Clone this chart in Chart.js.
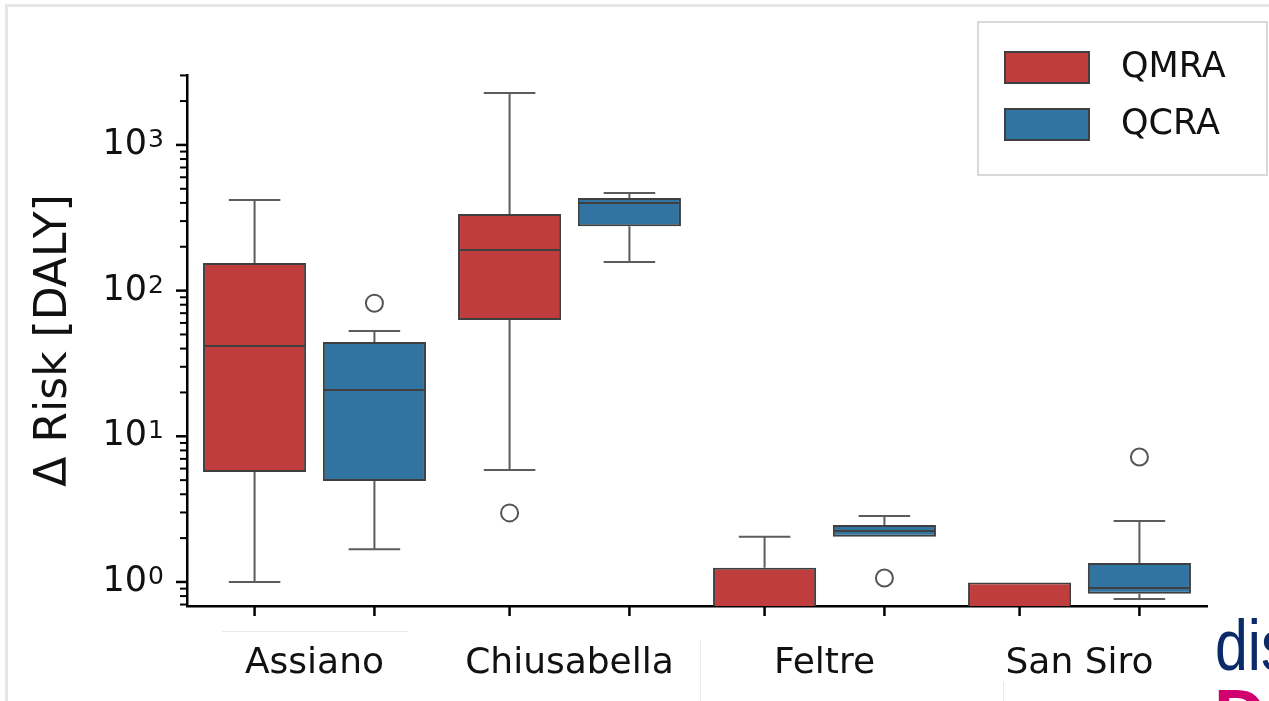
<!DOCTYPE html>
<html>
<head>
<meta charset="utf-8">
<script src="https://cdn.jsdelivr.net/npm/chart.js@4"></script>
<style>
  html, body { margin: 0; padding: 0; background: #fff; overflow: hidden; }
  #wrap { position: relative; width: 1269px; height: 701px; overflow: hidden; }
  #frame { position: absolute; left: 5px; top: 4px; width: 1300px; height: 720px;
           border-top: 3px solid #e6e6e6; border-left: 3px solid #e6e6e6; pointer-events: none; }
  .faint { position: absolute; background: #e9e9e9; }
  #slideText { position: absolute; left: 1215px; top: 604px; font: 72px 'Liberation Sans', sans-serif;
               color: #0b2a68; transform: scaleX(0.82); transform-origin: left top; white-space: nowrap; }
  #slideText2 { position: absolute; left: 1214px; top: 674px; font: bold 72px 'Liberation Sans', sans-serif;
                color: #d1006e; white-space: nowrap; }
</style>
</head>
<body>
<div id="wrap">
  <canvas id="riskChart" width="1269" height="701"></canvas>
  <div id="frame"></div>
  <div class="faint" style="left:222px; top:631px; width:186px; height:1px;"></div>
  <div class="faint" style="left:700px; top:640px; width:1px; height:61px;"></div>
  <div class="faint" style="left:1003px; top:682px; width:1px; height:19px;"></div>
  <div id="slideText">dis</div>
  <div id="slideText2">D</div>
</div>
<script>
// ---- data ----
const categories = ['Assiano', 'Chiusabella', 'Feltre', 'San Siro'];
const seriesNames = ['QMRA', 'QCRA'];
const seriesColors = ['#c03d3e', '#3274a1'];

// QMRA box stats (whisker low, q1, median, q3, whisker high, outliers)
const qmraLow = [1.0, 5.87, 0.3, 0.3];
const qmraQ1 = [5.69, 62.9, 0.4, 0.45];
const qmraMedian = [41.7, 190, 0.55, 0.6];
const qmraQ3 = [155, 336, 1.25, 0.99];
const qmraHigh = [419, 2270, 2.04, 0.99];
const qmraOutliers = [[], [2.98], [], []];

// QCRA box stats
const qcraLow = [1.68, 157, 2.04, 0.764];
const qcraQ1 = [4.93, 277, 2.04, 0.83];
const qcraMedian = [20.8, 399, 2.24, 0.91];
const qcraQ3 = [44.4, 432, 2.46, 1.35];
const qcraHigh = [52.8, 468, 2.84, 2.62];
const qcraOutliers = [[82], [], [1.065], [7.21]];

// y tick labels: base "10" plus exponent
const yTickValues = [1, 10, 100, 1000];
const yTickBase = '10';
const yTickExponents = ['0', '1', '2', '3'];
const yMin = 0.684;
const yMax = 3020;

const stats = [
    { lo: qmraLow, q1: qmraQ1, med: qmraMedian, q3: qmraQ3, hi: qmraHigh, out: qmraOutliers },
    { lo: qcraLow, q1: qcraQ1, med: qcraMedian, q3: qcraQ3, hi: qcraHigh, out: qcraOutliers },
];

const FONT = "'DejaVu Sans', sans-serif";
const EDGE = '#3f3f3f';
const WHISKER = '#5c5c5c';
const Y_LABEL_PAD = 40;

function tickIndex(v) {
    return yTickValues.findIndex(t => Math.abs(v - t) / t < 1e-6);
}

// whiskers, medians, outliers, axis ticks, exponents and the legend box
const boxExtras = {
    id: 'boxExtras',
    afterDatasetsDraw(chart) {
        const { ctx, chartArea } = chart;
        const y = chart.scales.y;
        const py = v => y.getPixelForValue(v);
        ctx.save();
        ctx.beginPath();
        ctx.rect(chartArea.left, chartArea.top, chartArea.right - chartArea.left, chartArea.bottom - chartArea.top);
        ctx.clip();
        chart.data.datasets.forEach((ds, di) => {
            const st = stats[di];
            chart.getDatasetMeta(di).data.forEach((bar, i) => {
                const x = bar.x;
                const half = bar.width / 2;
                const cap = bar.width * 0.25;
                ctx.strokeStyle = WHISKER;
                ctx.lineWidth = 2;
                if (st.hi[i] > st.q3[i]) {
                    ctx.beginPath();
                    ctx.moveTo(x, py(st.q3[i]));
                    ctx.lineTo(x, py(st.hi[i]));
                    ctx.moveTo(x - cap, py(st.hi[i]));
                    ctx.lineTo(x + cap, py(st.hi[i]));
                    ctx.stroke();
                }
                if (st.lo[i] < st.q1[i]) {
                    ctx.beginPath();
                    ctx.moveTo(x, py(st.q1[i]));
                    ctx.lineTo(x, py(st.lo[i]));
                    ctx.moveTo(x - cap, py(st.lo[i]));
                    ctx.lineTo(x + cap, py(st.lo[i]));
                    ctx.stroke();
                }
                ctx.strokeStyle = EDGE;
                ctx.beginPath();
                ctx.moveTo(x - half + 1, py(st.med[i]));
                ctx.lineTo(x + half - 1, py(st.med[i]));
                ctx.stroke();
                st.out[i].forEach(v => {
                    ctx.strokeStyle = '#555';
                    ctx.beginPath();
                    ctx.arc(x, py(v), 8.5, 0, Math.PI * 2);
                    ctx.stroke();
                });
            });
        });
        ctx.restore();
    },
    afterDraw(chart) {
        const { ctx, chartArea } = chart;
        const y = chart.scales.y;
        ctx.save();
        ctx.strokeStyle = '#000';
        // y ticks: long on decades, short in between
        y.ticks.forEach(t => {
            const e = Math.floor(Math.log10(t.value) + 1e-9);
            const sig = t.value / Math.pow(10, e);
            if (Math.abs(sig - Math.round(sig)) > 1e-6) return;
            const major = Math.round(sig) === 1;
            const p = y.getPixelForValue(t.value);
            ctx.lineWidth = major ? 2.5 : 2;
            ctx.beginPath();
            ctx.moveTo(chartArea.left, p);
            ctx.lineTo(chartArea.left - (major ? 11 : 7), p);
            ctx.stroke();
        });
        // exponents next to the "10" labels
        ctx.fillStyle = '#111';
        ctx.font = '25px ' + FONT;
        ctx.textAlign = 'left';
        ctx.textBaseline = 'alphabetic';
        yTickValues.forEach((v, i) => {
            ctx.fillText(yTickExponents[i], chartArea.left - Y_LABEL_PAD + 1, y.getPixelForValue(v) + 2);
        });
        // x ticks under every box
        ctx.lineWidth = 2.5;
        chart.data.datasets.forEach((ds, di) => {
            chart.getDatasetMeta(di).data.forEach(bar => {
                ctx.beginPath();
                ctx.moveTo(bar.x, chartArea.bottom);
                ctx.lineTo(bar.x, chartArea.bottom + 10);
                ctx.stroke();
            });
        });
        // legend
        ctx.fillStyle = '#fff';
        ctx.fillRect(978, 22, 289, 153);
        ctx.strokeStyle = '#d9d9d9';
        ctx.lineWidth = 2;
        ctx.strokeRect(978, 22, 289, 153);
        seriesNames.forEach((name, i) => {
            const top = 52 + i * 57;
            ctx.fillStyle = seriesColors[i];
            ctx.fillRect(1005, top, 84, 31);
            ctx.strokeStyle = EDGE;
            ctx.lineWidth = 2;
            ctx.strokeRect(1005, top, 84, 31);
            ctx.fillStyle = '#111';
            ctx.font = '35px ' + FONT;
            ctx.textBaseline = 'middle';
            ctx.fillText(name, 1121, top + 16);
        });
        ctx.restore();
    }
};

new Chart(document.getElementById('riskChart'), {
    type: 'bar',
    data: {
        labels: categories,
        datasets: seriesNames.map((name, di) => ({
            label: name,
            data: categories.map((c, i) => [stats[di].q1[i], stats[di].q3[i]]),
            backgroundColor: seriesColors[di],
            borderColor: EDGE,
            borderWidth: 2,
            borderSkipped: false,
            categoryPercentage: 0.94,
            barPercentage: 0.86,
            clip: 0,
        })),
    },
    options: {
        responsive: false,
        animation: false,
        layout: { padding: { top: 75, right: 62, bottom: 0, left: 0 } },
        plugins: {
            legend: { display: false },
            tooltip: { enabled: false },
        },
        scales: {
            x: {
                grid: { display: false, drawTicks: false },
                border: { display: true, color: '#000', width: 2.5 },
                ticks: { font: { family: FONT, size: 36 }, color: '#111', padding: 36 },
                afterFit: s => { s.height = 95; },
            },
            y: {
                type: 'logarithmic',
                min: yMin,
                max: yMax,
                grid: { display: false, drawTicks: false },
                border: { display: true, color: '#000', width: 2.5 },
                ticks: {
                    autoSkip: false,
                    font: { family: FONT, size: 35 },
                    color: '#111',
                    padding: Y_LABEL_PAD,
                    callback: v => (tickIndex(v) >= 0 ? yTickBase : ''),
                },
                title: {
                    display: true,
                    text: 'Δ Risk [DALY]',
                    font: { family: FONT, size: 44 },
                    color: '#111',
                    padding: { top: 28, bottom: 0 },
                },
                afterFit: s => { s.width = 187; },
            },
        },
    },
    plugins: [boxExtras],
});
</script>
</body>
</html>
